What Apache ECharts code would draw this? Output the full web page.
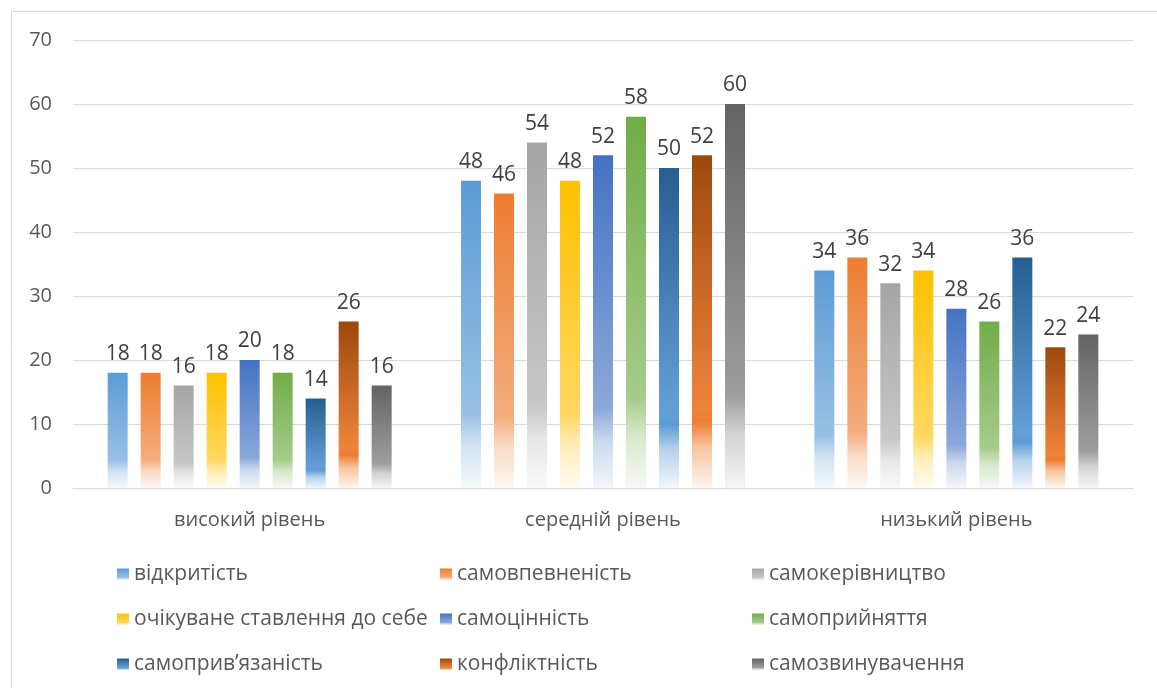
<!DOCTYPE html>
<html>
<head>
<meta charset="utf-8">
<script src="https://cdn.jsdelivr.net/npm/echarts@6/dist/echarts.min.js"></script>
<style>
html,body{margin:0;padding:0;background:#fff;}
#chart{width:1157px;height:688px;}
</style>
</head>
<body>
<div id="chart"></div>
<script>
const categories = ['високий рівень', 'середній рівень', 'низький рівень'];
const seriesNames = ['відкритість', 'самовпевненість', 'самокерівництво', 'очікуване ставлення до себе', 'самоцінність', 'самоприйняття', 'самоприв’язаність', 'конфліктність', 'самозвинувачення'];
const vidkrytist = [18, 48, 34];
const samovpevnenist = [18, 46, 36];
const samokerivnytstvo = [16, 54, 32];
const ochikuvane = [18, 48, 34];
const samotsinnist = [20, 52, 28];
const samopryiniattia = [18, 58, 26];
const samopryviazanist = [14, 50, 36];
const konfliktnist = [26, 52, 22];
const samozvynuvachennia = [16, 60, 24];
const yTicks = [0, 10, 20, 30, 40, 50, 60, 70];

const seriesData = [vidkrytist, samovpevnenist, samokerivnytstvo, ochikuvane, samotsinnist, samopryiniattia, samopryviazanist, konfliktnist, samozvynuvachennia];
const topColors = ['#5B9BD5', '#ED7D31', '#A5A5A5', '#FFC000', '#4472C4', '#70AD47', '#255E91', '#9E480E', '#636363'];
const midColors = [null, null, null, null, null, null, '#5B9BD5', '#ED7D31', null];

function mix(hex, t) {
  const n = parseInt(hex.slice(1), 16);
  const r = (n >> 16) & 255, g = (n >> 8) & 255, b = n & 255;
  const f = c => Math.round(c + (255 - c) * t);
  return 'rgb(' + f(r) + ',' + f(g) + ',' + f(b) + ')';
}
function grad(i) {
  const c = topColors[i];
  let stops;
  if (midColors[i]) {
    const m = midColors[i];
    stops = [
      {offset: 0, color: c},
      {offset: 0.76, color: mix(m, 0.05)},
      {offset: 0.8, color: m},
      {offset: 0.88, color: mix(m, 0.55)},
      {offset: 1, color: mix(m, 0.92)}
    ];
  } else {
    stops = [
      {offset: 0, color: c},
      {offset: 0.76, color: mix(c, 0.38)},
      {offset: 0.86, color: mix(c, 0.72)},
      {offset: 1, color: mix(c, 0.94)}
    ];
  }
  return new echarts.graphic.LinearGradient(0, 0, 0, 1, stops);
}

const FONT = 'Open Sans';
const series = seriesNames.map((name, i) => ({
  name: name,
  type: 'bar',
  data: seriesData[i],
  barWidth: 20,
  barGap: '65%',
  itemStyle: {color: grad(i)},
  label: {show: true, position: 'top', distance: 8, fontSize: 21, color: '#404040', fontFamily: FONT},
  emphasis: {disabled: true}
}));

const colLeft = [112, 435, 747];
const legends = [0, 1, 2].map(col => ({
  orient: 'vertical',
  left: colLeft[col],
  top: 559,
  itemWidth: 12,
  itemHeight: 12,
  itemGap: 24,
  icon: 'rect',
  selectedMode: false,
  textStyle: {fontSize: 21, color: '#595959', fontFamily: FONT, padding: [0, 0, 0, 0]},
  data: [seriesNames[col], seriesNames[col + 3], seriesNames[col + 6]]
}));

const chart = echarts.init(document.getElementById('chart'), null, {renderer: 'canvas'});
chart.setOption({
  animation: false,
  backgroundColor: '#fff',
  graphic: [{
    type: 'rect',
    left: 9, top: 9,
    shape: {width: 1170, height: 700},
    style: {fill: 'none', stroke: '#d9d9d9', lineWidth: 1},
    silent: true
  }],
  grid: {left: 73, right: 24, top: 40, bottom: 200, containLabel: false},
  legend: legends,
  xAxis: {
    type: 'category',
    data: categories,
    axisLine: {lineStyle: {color: '#d9d9d9', width: 1}},
    axisTick: {show: false},
    axisLabel: {fontSize: 20, color: '#595959', fontFamily: FONT, margin: 22}
  },
  yAxis: {
    type: 'value',
    min: yTicks[0],
    max: yTicks[yTicks.length - 1],
    interval: 10,
    axisLine: {show: false},
    axisTick: {show: false},
    axisLabel: {fontSize: 20, color: '#595959', fontFamily: FONT, margin: 21},
    splitLine: {lineStyle: {color: '#d9d9d9', width: 1}}
  },
  series: series
});
</script>
</body>
</html>
